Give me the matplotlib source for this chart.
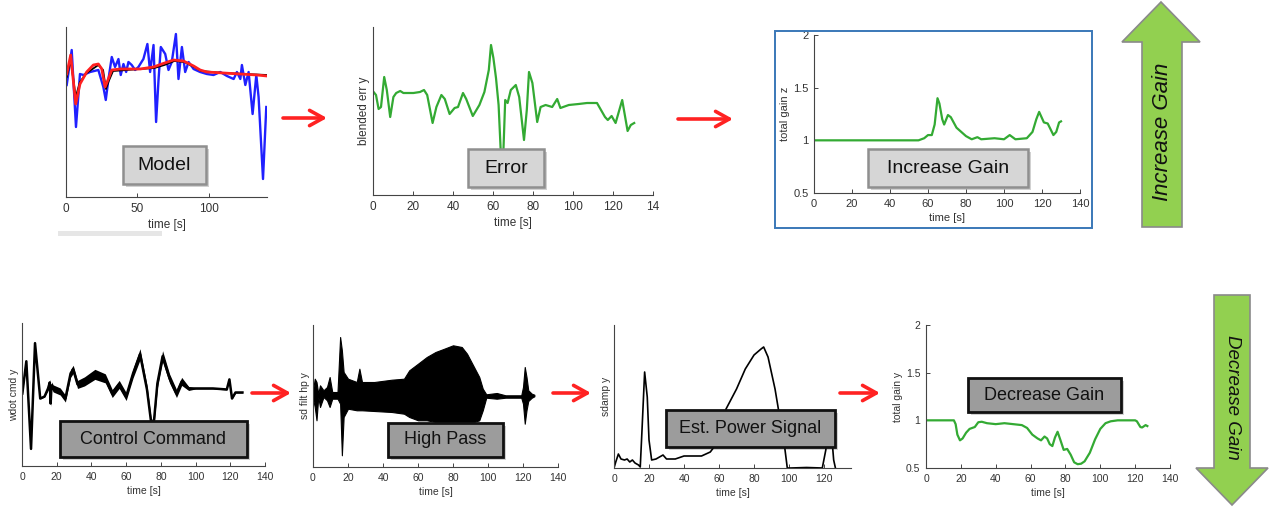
import matplotlib
matplotlib.use('Agg')
import matplotlib.pyplot as plt
from matplotlib.patches import Rectangle, Polygon, FancyArrowPatch

plt.rcParams['font.family'] = ['Liberation Sans', 'DejaVu Sans']

# ---- data (time in s, y in arbitrary units) ----
# Model panel
model_t = [0.5, 4.0, 7.0, 9.8, 12.2, 16.9, 22.7, 26.2, 27.9, 29.7, 32.1, 34.4, 36.8, 38.4, 40.3,
           42.2, 43.8, 46.1, 48.5, 50.8, 54.3, 57.1, 59.0, 61.4, 63.2, 64.9, 66.5, 69.6, 71.9, 74.2,
           77.1, 78.9, 81.3, 83.6, 86.0, 89.5, 94.1, 98.8, 103.5, 108.2, 112.9, 117.6, 119.9, 122.3,
           123.4, 125.8, 128.1, 130.9, 133.5, 135.1, 138.2, 140.5]
model_meas = [11.2, 14.7, 7.0, 12.3, 12.2, 12.5, 12.7, 11.0, 9.7, 11.7, 14.0, 13.0, 13.8, 12.2, 13.3,
              12.5, 13.5, 13.2, 12.7, 13.0, 13.8, 15.3, 12.5, 15.2, 7.5, 11.7, 15.0, 14.3, 12.7, 13.5,
              16.3, 11.8, 15.0, 12.5, 13.5, 12.8, 12.5, 12.3, 12.2, 12.5, 12.1, 11.8, 12.5, 11.8,
              13.2, 11.2, 12.5, 8.3, 12.2, 10.0, 1.8, 9.0]
fit_t = [0.5, 3.3, 6.8, 9.8, 14.5, 19.2, 22.7, 25.1, 27.4, 29.7, 32.1, 38.0, 52.0, 61.4, 67.2,
         75.4, 82.4, 89.5, 94.1, 98.8, 110.5, 122.3, 134.0, 141.0]
fit_red = [12.3, 14.2, 9.3, 11.3, 12.5, 13.2, 13.3, 12.8, 11.0, 11.8, 12.7, 12.8, 12.8, 13.0, 13.3,
           13.7, 13.6, 13.1, 12.7, 12.5, 12.4, 12.3, 12.2, 12.1]
ref_t = [0.5, 3.3, 6.8, 9.8, 14.5, 22.7, 26.0, 28.0, 30.0, 33.0, 52.0, 62.0, 69.0, 76.0, 83.0,
         90.0, 95.0, 110.0, 141.0]
ref_black = [12.0, 13.7, 10.0, 11.5, 12.4, 13.2, 12.7, 10.8, 11.6, 12.6, 12.8, 12.9, 13.2, 13.6, 13.5,
             13.0, 12.6, 12.4, 12.2]

# Error panel
err_t = [0.3, 1.5, 2.8, 4.0, 5.6, 6.9, 8.6, 10.2, 11.6, 13.6, 15.2, 16.9, 20.2, 23.5, 25.5, 27.1,
         29.8, 31.7, 34.2, 35.9, 38.3, 40.8, 42.5, 45.0, 46.6, 49.9, 53.2, 55.7, 57.9, 59.0, 60.2,
         61.5, 62.8, 64.0, 65.1, 66.1, 67.3, 68.9, 71.4, 73.1, 75.5, 76.9, 78.0, 79.7, 82.1, 83.8,
         86.3, 89.6, 92.1, 93.7, 97.9, 102.8, 107.0, 112.0, 116.0, 117.4, 119.3, 121.3, 124.6,
         127.3, 128.9, 130.6]
err_y = [10.3, 10.0, 8.6, 8.8, 11.8, 10.5, 7.8, 9.8, 10.2, 10.4, 10.2, 10.2, 10.2, 10.3, 10.5, 10.0,
         7.2, 8.8, 10.0, 9.6, 8.1, 8.7, 8.8, 10.2, 9.6, 7.9, 9.0, 10.3, 12.5, 15.0, 13.7,
         11.7, 9.0, 3.8, 3.8, 9.5, 9.2, 10.5, 11.0, 9.8, 5.5, 8.5, 12.3, 11.2, 7.3, 8.8,
         9.0, 8.8, 9.6, 8.7, 9.0, 9.1, 9.2, 9.2, 7.8, 7.5, 7.9, 7.2, 9.5,
         6.4, 7.0, 7.2]

# Increase gain panel
inc_t = [0, 55, 58, 60, 62, 63.5, 65, 66, 67.5, 68.5, 70.5, 72, 75, 80, 83, 86, 88, 95, 100, 103,
         106, 112, 115, 117, 118.5, 121, 123, 126, 127.5, 129, 130]
inc_gain = [1.0, 1.0, 1.02, 1.05, 1.05, 1.15, 1.4, 1.35, 1.2, 1.15, 1.24, 1.22, 1.12, 1.04, 1.01,
            1.03, 1.01, 1.02, 1.01, 1.05, 1.01, 1.02, 1.08, 1.2, 1.27, 1.17, 1.16, 1.05, 1.08,
            1.17, 1.18]

# Control command panel (centre line and half band width)
cmd_t = [0.2, 2.5, 5.2, 7.5, 10.5, 13, 15, 16, 16.5, 17, 18, 22, 25, 28, 29.5, 32, 36, 42, 48, 52,
         56, 60, 64, 68, 72, 74.5, 76, 78, 81, 85, 89, 92, 96, 100, 110, 118, 119.5, 121, 123, 127]
cmd_y = [7.2, 10.4, 1.7, 12.2, 6.7, 6.9, 7.7, 8.3, 6.2, 8.0, 7.7, 7.4, 6.7, 9.2, 9.6, 8.1, 8.4, 9.1,
         8.7, 7.2, 8.1, 6.9, 9.2, 11.1, 7.6, 4.2, 4.4, 8.2, 10.9, 8.7, 7.2, 8.4, 7.7, 7.7, 7.7,
         7.6, 8.6, 6.7, 7.3, 7.3]
cmd_w = [0.05, 0.05, 0.05, 0.05, 0.05, 0.05, 0.2, 0.3, 0.3, 0.35, 0.35, 0.35, 0.35, 0.4, 0.4,
         0.4, 0.45, 0.5, 0.45, 0.4, 0.4, 0.4, 0.45, 0.55, 0.45, 0.4, 0.4, 0.45, 0.55, 0.45,
         0.4, 0.4, 0.2, 0.05, 0.05, 0.05, 0.05, 0.05, 0.05, 0.05]

# High pass panel (upper / lower envelope)
hp_t = [0, 1, 2, 3, 4, 6, 8, 9.5, 11, 14, 15.5, 16.5, 17.5, 20, 25, 26.5, 28, 35, 45, 52, 55, 60,
        65, 70, 75, 80, 85, 88, 92, 95, 97, 99, 105, 110, 119, 120, 121, 122, 123, 125, 126.5]
hp_hi = [7.67, 8.83, 8.5, 7.33, 8.17, 7.67, 8.0, 9.0, 7.5, 7.5, 13.0, 11.67, 9.5, 8.83, 8.5, 9.83,
         8.5, 8.5, 8.73, 8.83, 9.67, 10.33, 11.0, 11.5, 11.83, 12.17, 12.0, 11.33, 10.0, 9.0,
         7.83, 7.27, 7.4, 7.17, 7.17, 8.0, 10.0, 9.0, 7.67, 7.33, 7.23]
hp_lo = [6.83, 6.0, 4.67, 7.0, 6.0, 7.0, 6.67, 6.0, 6.83, 6.83, 6.33, 1.17, 5.0, 5.83, 5.67, 5.67,
         5.67, 5.6, 5.5, 5.33, 5.0, 4.67, 4.67, 4.5, 4.5, 4.5, 4.33, 4.33, 4.5, 4.67,
         5.67, 6.93, 6.83, 6.93, 6.93, 6.33, 4.33, 5.67, 6.6, 6.93, 7.07]

# Estimated power panel
pw_t = [0, 1, 2.5, 4, 6, 7.5, 9, 10.5, 12, 14, 15, 16, 17.5, 19, 20, 21.5, 24, 26, 28, 30, 35, 40,
        45, 50, 55, 58, 60, 64, 70, 75, 80, 84, 85.5, 88, 92, 94, 97, 99, 101, 110, 119, 121,
        122.5, 124, 125.5, 126.5]
pw_y = [0, 0.6, 1.4, 0.9, 0.8, 0.9, 0.6, 0.8, 0.5, 0.3, 0.1, 3.8, 9.6, 7.1, 2.8, 0.8, 0.9, 1.1,
        1.3, 0.9, 0.9, 1.2, 1.2, 1.2, 1.6, 2.3, 3.1, 5.9, 7.9, 9.9, 11.3, 11.9, 12.1, 11.1, 7.9,
        5.8, 2.8, 0, 0, 0.05, 0, 1.8, 4.0, 4.0, 0.8, 0]

# Decrease gain panel
dec_t = [0, 16, 17, 18, 19.5, 21, 23, 25, 28, 30, 32, 35, 40, 45, 50, 55, 58, 61, 64, 66, 68, 69.5,
         71, 72.5, 74, 75.5, 77, 79, 81, 83, 85, 87, 89, 91, 94, 97, 100, 103, 106, 110, 120,
         121, 123, 124, 126, 127]
dec_gain = [1.0, 1.0, 0.96, 0.85, 0.79, 0.81, 0.87, 0.91, 0.93, 0.98, 0.985, 0.97, 0.96, 0.97,
            0.96, 0.95, 0.92, 0.85, 0.81, 0.79, 0.83, 0.81, 0.75, 0.73, 0.82, 0.88, 0.8, 0.69,
            0.7, 0.64, 0.56, 0.54, 0.545, 0.57, 0.66, 0.8, 0.91, 0.97, 0.99, 1.0, 1.0, 0.99,
            0.93, 0.925, 0.95, 0.94]

time_ticks = [0, 20, 40, 60, 80, 100, 120, 140]
gain_ticks = [0.5, 1, 1.5, 2]
gain_labels = ['0.5', '1', '1.5', '2']

GREEN = '#33aa33'
TXT = '#333333'

# ---- layout helpers (pixel positions on a 1274x508 canvas) ----
W, H = 1274, 508
fig = plt.figure(figsize=(W / 100, H / 100), dpi=100)


def rect(l, t, r, b):
    return [l / W, 1 - b / H, (r - l) / W, (b - t) / H]


def pt(x, y):
    return (x / W, 1 - y / H)


def panel(pos, xlim, ylim, xticks, fs, yticks=None, ylabels=None, ylabel=None):
    ax = fig.add_axes(rect(*pos))
    ax.set_facecolor('none')
    for s in ['top', 'right']:
        ax.spines[s].set_visible(False)
    for s in ['left', 'bottom']:
        ax.spines[s].set_color('#444444')
        ax.spines[s].set_linewidth(0.8)
    ax.set_xlim(*xlim)
    ax.set_ylim(*ylim)
    ax.set_xticks(xticks)
    if yticks is None:
        ax.set_yticks([])
    else:
        ax.set_yticks(yticks)
        ax.set_yticklabels(ylabels)
    ax.tick_params(direction='in', length=3, width=0.7, colors='#444444',
                   labelsize=fs, labelcolor=TXT, pad=4)
    ax.set_xlabel('time [s]', fontsize=fs, color=TXT, labelpad=3)
    if ylabel:
        ax.set_ylabel(ylabel, fontsize=fs, color=TXT, labelpad=2)
    return ax


def label_box(l, t, r, b, text, fill, edge, lw, size):
    fig.add_artist(Rectangle(pt(l + 3, b + 3), (r - l) / W, (b - t) / H,
                             transform=fig.transFigure, facecolor='#000000',
                             alpha=0.18, edgecolor='none', zorder=4))
    fig.add_artist(Rectangle(pt(l, b), (r - l) / W, (b - t) / H,
                             transform=fig.transFigure, facecolor=fill,
                             edgecolor=edge, linewidth=lw, zorder=5))
    x, y = pt((l + r) / 2, (t + b) / 2)
    fig.text(x, y, text, ha='center', va='center', fontsize=size, color='#111111', zorder=6)


def red_arrow(x0, x1, y):
    fig.add_artist(FancyArrowPatch(pt(x0, y), pt(x1, y), transform=fig.transFigure,
                                   arrowstyle='->, head_length=0.45, head_width=0.25',
                                   mutation_scale=22, lw=2.6, color='#ff2222',
                                   shrinkA=0, shrinkB=0, zorder=5))


# ---- top row ----
ax1 = panel((66, 27, 267, 197), (0, 141), (0, 17), [0, 50, 100], 8.5)
ax1.plot(model_t, model_meas, color='#2020ff', lw=1.7, solid_joinstyle='round')
ax1.plot(ref_t, ref_black, color='black', lw=1.3, solid_joinstyle='round')
ax1.plot(fit_t, fit_red, color='#ff2020', lw=2.0, solid_joinstyle='round')
fig.add_artist(Rectangle(pt(58, 236), 104 / W, 5 / H, transform=fig.transFigure,
                         facecolor='#e6e6e6', edgecolor='none'))

ax2 = panel((373, 27, 653, 195), (0, 140), (0, 16.8), time_ticks, 8.5,
            ylabel='blended err y')
ax2.set_xticklabels(['0', '20', '40', '60', '80', '100', '120', '14'])
ax2.plot(err_t, err_y, color=GREEN, lw=1.6, solid_joinstyle='round')

ax3 = panel((814, 35, 1080, 193), (0, 140), (0.5, 2), time_ticks, 8,
            gain_ticks, gain_labels, ylabel='total gain z')
ax3.plot(inc_t, inc_gain, color=GREEN, lw=1.6, solid_joinstyle='round')
fig.add_artist(Rectangle(pt(775, 228), (1092 - 775) / W, (228 - 31) / H,
                         transform=fig.transFigure, facecolor='none',
                         edgecolor='#3a78b8', linewidth=1.4, zorder=3))

# ---- bottom row ----
ax4 = panel((22, 323, 265, 466), (0, 140), (0, 14.2), time_ticks, 7.5, ylabel='wdot cmd y')
lo4 = [c - w for c, w in zip(cmd_y, cmd_w)]
hi4 = [c + w for c, w in zip(cmd_y, cmd_w)]
ax4.fill_between(cmd_t, lo4, hi4, color='black', lw=0)
ax4.plot(cmd_t, cmd_y, color='black', lw=1.8, solid_joinstyle='round')

ax5 = panel((313, 325, 558, 467), (0, 140), (0, 14.2), time_ticks, 7.5, ylabel='sd filt hp y')
ax5.fill_between(hp_t, hp_lo, hp_hi, color='black', lw=0.8, edgecolor='black')

ax6 = panel((614, 325, 851, 468), (0, 135.4), (0, 14.3), time_ticks[:-1], 7.5, ylabel='sdamp y')
ax6.plot(pw_t, pw_y, color='black', lw=1.2, solid_joinstyle='round')

ax7 = panel((926, 325, 1170, 468), (0, 140), (0.5, 2), time_ticks, 7.5,
            gain_ticks, gain_labels, ylabel='total gain y')
ax7.plot(dec_t, dec_gain, color=GREEN, lw=1.6, solid_joinstyle='round')

# ---- label boxes ----
label_box(123, 146, 206, 184, 'Model', '#d6d6d6', '#8f8f8f', 1.8, 14)
label_box(468, 149, 544, 187, 'Error', '#d6d6d6', '#8f8f8f', 1.8, 14)
label_box(868, 149, 1028, 187, 'Increase Gain', '#d6d6d6', '#8f8f8f', 1.8, 14)
label_box(60, 421, 247, 457, 'Control Command', '#9c9c9c', '#111111', 2.0, 13)
label_box(388, 423, 503, 457, 'High Pass', '#9c9c9c', '#111111', 2.0, 13)
label_box(666, 410, 835, 447, 'Est. Power Signal', '#9c9c9c', '#111111', 2.0, 13)
label_box(968, 378, 1121, 412, 'Decrease Gain', '#9c9c9c', '#111111', 2.0, 13)

# ---- red flow arrows ----
red_arrow(283, 327, 118)
red_arrow(678, 733, 119)
red_arrow(252, 291, 393)
red_arrow(553, 591, 393)
red_arrow(840, 880, 393)

# ---- big green arrows ----
up = [(1161, 2), (1200, 42), (1182, 42), (1182, 227), (1142, 227), (1142, 42), (1122, 42)]
down = [(1214, 295), (1250, 295), (1250, 468), (1268, 468), (1232, 505), (1196, 468), (1214, 468)]
for shape in (up, down):
    fig.add_artist(Polygon([pt(x, y) for x, y in shape], closed=True, transform=fig.transFigure,
                           facecolor='#92d050', edgecolor='#8a8a8a', linewidth=1.2, zorder=3))
x, y = pt(1162, 132)
fig.text(x, y, 'Increase Gain', rotation=90, ha='center', va='center', fontsize=16,
         style='italic', color='#111111', zorder=6)
x, y = pt(1232, 397)
fig.text(x, y, 'Decrease Gain', rotation=-90, ha='center', va='center', fontsize=13.5,
         style='italic', color='#111111', zorder=6)

fig.savefig('out.png', dpi=100)
